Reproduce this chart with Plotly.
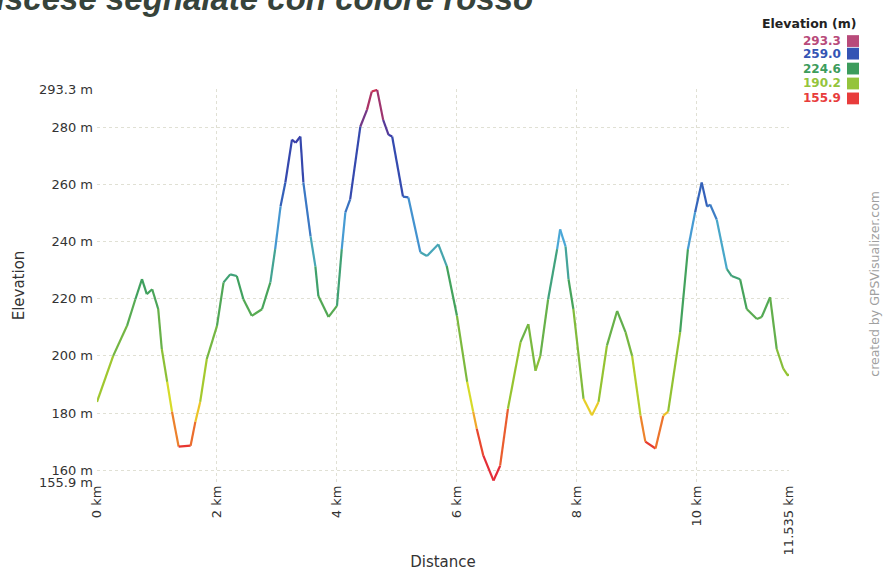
import plotly.graph_objects as go

# ---- data ----
dist_km = [0.00, 0.27, 0.50, 0.64, 0.75, 0.83, 0.92, 1.02, 1.08, 1.17, 1.25, 1.36, 1.56, 1.64, 1.72,
           1.83, 2.00, 2.11, 2.22, 2.33, 2.44, 2.58, 2.75, 2.89, 2.97, 3.06, 3.14, 3.25, 3.31, 3.39,
           3.44, 3.56, 3.64, 3.69, 3.86, 4.00, 4.08, 4.14, 4.22, 4.39, 4.50, 4.58, 4.67, 4.77, 4.86,
           4.92, 5.10, 5.19, 5.39, 5.50, 5.69, 5.83, 6.00, 6.17, 6.27, 6.33, 6.44, 6.61, 6.72, 6.85,
           7.06, 7.19, 7.31, 7.39, 7.52, 7.67, 7.72, 7.81, 7.86, 7.94, 8.11, 8.25, 8.36, 8.50, 8.67,
           8.81, 8.92, 9.06, 9.14, 9.31, 9.44, 9.52, 9.72, 9.85, 9.97, 10.08, 10.17, 10.22, 10.33,
           10.50, 10.58, 10.72, 10.83, 11.00, 11.08, 11.22, 11.33, 11.44, 11.52, 11.535]
elev_m = [183.9, 200.0, 210.5, 219.8, 226.8, 221.6, 223.3, 216.4, 202.4, 190.9, 180.5, 168.3, 168.6, 177.0, 183.9,
          198.9, 210.5, 225.7, 228.5, 227.9, 219.8, 214.0, 216.3, 225.7, 237.3, 252.3, 260.6, 275.6, 274.5, 276.7,
          260.6, 241.8, 231.3, 220.9, 213.6, 217.5, 237.3, 250.2, 254.7, 280.2, 286.0, 292.4, 293.0, 282.5, 277.3,
          276.7, 255.7, 255.4, 236.2, 234.9, 239.0, 231.4, 214.0, 190.9, 180.5, 174.5, 165.1, 156.4, 161.6, 181.5,
          204.8, 211.1, 194.8, 200.0, 219.8, 237.3, 244.2, 238.3, 226.8, 216.4, 185.0, 179.2, 183.9, 203.6, 215.7,
          208.3, 200.0, 179.1, 170.0, 167.6, 179.1, 180.5, 208.3, 237.3, 250.2, 260.6, 252.2, 252.9, 247.7,
          230.3, 227.9, 226.8, 216.4, 212.9, 213.6, 220.5, 202.4, 195.5, 193.0, 193.7]

y_ticks = [155.9, 160, 180, 200, 220, 240, 260, 280, 293.3]
y_tick_text = ["155.9 m", "160 m", "180 m", "200 m", "220 m", "240 m", "260 m", "280 m", "293.3 m"]
x_ticks = [0, 2, 4, 6, 8, 10, 11.535]
x_tick_text = ["0 km", "2 km", "4 km", "6 km", "8 km", "10 km", "11.535 km"]

legend_values = ["293.3", "259.0", "224.6", "190.2", "155.9"]
legend_colors = ["#b84a7a", "#3454b4", "#3c9c5c", "#94c43c", "#e83c3c"]

ymin, ymax = 155.9, 293.3
scale = [(0.00, (226, 40, 60)), (0.09, (232, 52, 48)), (0.17, (240, 190, 40)),
         (0.21, (222, 222, 40)), (0.27, (150, 196, 48)), (0.50, (62, 160, 96)),
         (0.62, (74, 168, 216)), (0.75, (48, 84, 180)), (0.88, (58, 60, 168)), (1.00, (208, 48, 80))]


def color_at(v):
    t = (v - ymin) / (ymax - ymin)
    t = max(0.0, min(1.0, t))
    for (t0, c0), (t1, c1) in zip(scale[:-1], scale[1:]):
        if t0 <= t <= t1:
            f = (t - t0) / (t1 - t0) if t1 > t0 else 0
            c = [round(a + (b - a) * f) for a, b in zip(c0, c1)]
            return "rgb(%d,%d,%d)" % tuple(c)
    return "rgb(%d,%d,%d)" % scale[-1][1]


fig = go.Figure()
for i in range(len(dist_km) - 1):
    mid = (elev_m[i] + elev_m[i + 1]) / 2
    fig.add_trace(go.Scatter(
        x=[dist_km[i], dist_km[i + 1]], y=[elev_m[i], elev_m[i + 1]],
        mode="lines", line=dict(color=color_at(mid), width=2.2),
        showlegend=False, hoverinfo="skip"))

font_main = "DejaVu Sans, Verdana, sans-serif"
font_title = "Liberation Sans, Arial, sans-serif"
grid_col = "#e0e0d4"

fig.update_layout(
    width=883, height=580,
    margin=dict(l=97, r=94, t=89, b=96),
    paper_bgcolor="white", plot_bgcolor="white",
    font=dict(family=font_main, size=13, color="#333333"),
    xaxis=dict(range=[0, 11.535], tickvals=x_ticks, ticktext=x_tick_text, tickangle=-90,
               showgrid=True, gridcolor=grid_col, griddash="dot", gridwidth=1,
               zeroline=False, showline=False, ticks="", ticklen=0,
               tickfont=dict(family=font_main, size=13, color="#333333"),
               title=dict(text="Distance", font=dict(family=font_main, size=15, color="#333333"),
                          standoff=2)),
    yaxis=dict(range=[155.9, 293.3], tickvals=y_ticks, ticktext=y_tick_text,
               showgrid=True, gridcolor=grid_col, griddash="dot", gridwidth=1,
               zeroline=False, showline=False, ticks="", ticklen=0,
               ticklabelstandoff=3,
               tickfont=dict(family=font_main, size=13, color="#333333"),
               title=dict(text="Elevation", font=dict(family=font_main, size=15, color="#333333"),
                          standoff=10)),
)

ann = []
# clipped title at the very top
ann.append(dict(text="<b><i>Discese segnalate con colore rosso</i></b>", xref="paper", yref="paper",
                x=-0.1835, y=1.178, xanchor="left", yanchor="bottom", showarrow=False,
                font=dict(family=font_title, size=33, color="#37433a")))
# legend
ann.append(dict(text="<b>Elevation (m)</b>", xref="paper", yref="paper", x=1.0997, y=1.167,
                xanchor="right", yanchor="middle", showarrow=False,
                font=dict(family=font_main, size=12.5, color="#222222")))
ys = [1.122, 1.090, 1.052, 1.014, 0.976]
shapes = []
for v, c, yp in zip(legend_values, legend_colors, ys):
    ann.append(dict(text="<b>%s</b>" % v, xref="paper", yref="paper", x=1.078, y=yp,
                    xanchor="right", yanchor="middle", showarrow=False,
                    font=dict(family=font_main, size=12, color=c)))
    shapes.append(dict(type="rect", xref="paper", yref="paper", x0=1.0838, x1=1.1012,
                       y0=yp - 0.015, y1=yp + 0.015, fillcolor=c, line=dict(width=0)))
# watermark
ann.append(dict(text="created by GPSVisualizer.com", xref="paper", yref="paper", x=1.124, y=0.504,
                textangle=-90, xanchor="center", yanchor="middle", showarrow=False,
                font=dict(family=font_main, size=12.5, color="#a0a0a0")))

fig.update_layout(annotations=ann, shapes=shapes)
fig.write_html("out.html", config={"displayModeBar": False},
               post_script="document.body.style.margin='0';document.body.style.padding='0';")
